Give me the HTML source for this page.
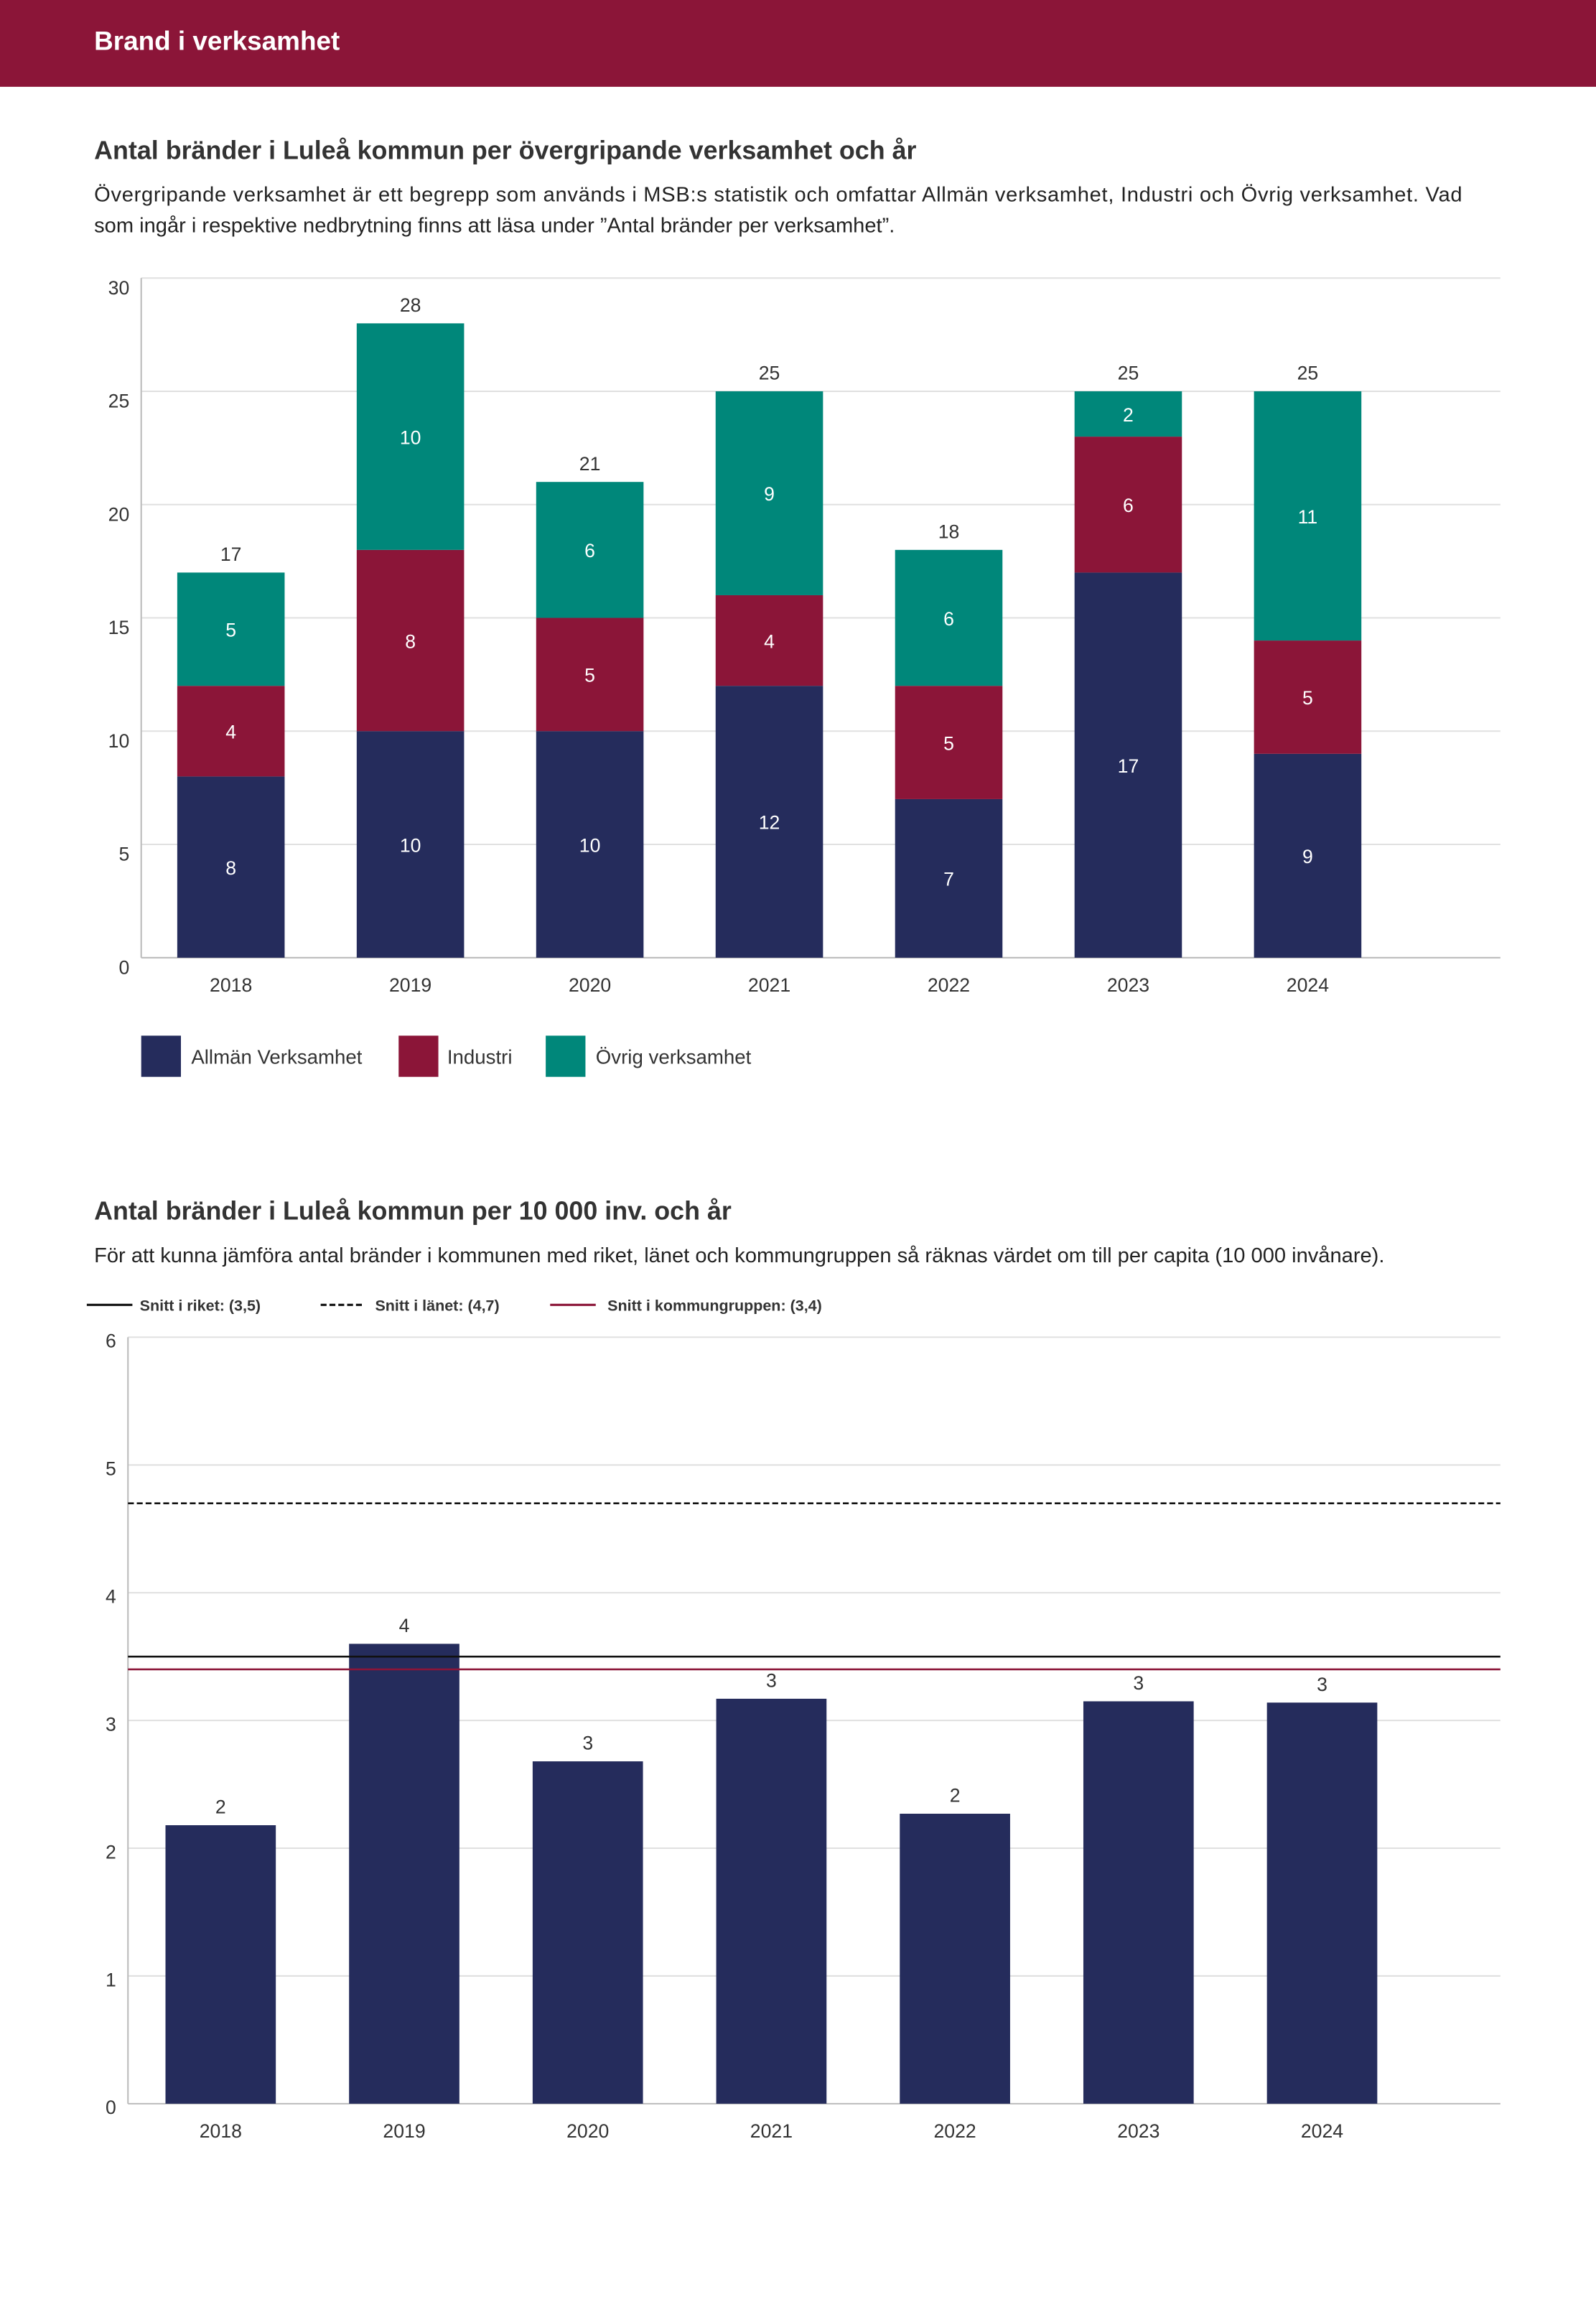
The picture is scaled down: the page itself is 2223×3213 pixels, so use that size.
<!DOCTYPE html>
<html><head><meta charset="utf-8"><style>
html,body{margin:0;padding:0;background:#fff;}
svg{display:block;font-family:"Liberation Sans",sans-serif;}
</style></head><body>
<svg id="s" width="2223" height="3213" viewBox="0 0 1085 1568.2" xmlns="http://www.w3.org/2000/svg">
<rect x="0" y="0" width="1085" height="59" fill="#8b1538"/>
<text x="64" y="34" font-size="18" font-weight="bold" fill="#fff">Brand i verksamhet</text>
<text x="64" y="108" font-size="17.5" font-weight="bold" fill="#333">Antal bränder i Luleå kommun per övergripande verksamhet och år</text>
<text x="64" y="137" font-size="14.2" fill="#222" textLength="930" lengthAdjust="spacing">Övergripande verksamhet är ett begrepp som används i MSB:s statistik och omfattar Allmän verksamhet, Industri och Övrig verksamhet. Vad</text>
<text x="64" y="158" font-size="14.2" fill="#222">som ingår i respektive nedbrytning finns att läsa under ”Antal bränder per verksamhet”.</text>
<g id="c1"></g>
<g>
<rect x="96" y="704" width="27" height="28" fill="#252c5c"/>
<text x="130" y="723" font-size="13.5" fill="#333">Allmän Verksamhet</text>
<rect x="271" y="704" width="27" height="28" fill="#8b1538"/>
<text x="304" y="723" font-size="13.5" fill="#333">Industri</text>
<rect x="371" y="704" width="27" height="28" fill="#00877a"/>
<text x="405" y="723" font-size="13.5" fill="#333">Övrig verksamhet</text>
</g>
<text x="64" y="829" font-size="17.5" font-weight="bold" fill="#333">Antal bränder i Luleå kommun per 10 000 inv. och år</text>
<text x="64" y="858" font-size="14.2" fill="#222">För att kunna jämföra antal bränder i kommunen med riket, länet och kommungruppen så räknas värdet om till per capita (10 000 invånare).</text>
<g>
<line x1="59" y1="887" x2="90" y2="887" stroke="#111" stroke-width="1.5"/>
<text x="95" y="891" font-size="10.5" font-weight="bold" fill="#333">Snitt i riket: (3,5)</text>
<line x1="218" y1="887" x2="248" y2="887" stroke="#111" stroke-width="1.5" stroke-dasharray="4,2"/>
<text x="255" y="891" font-size="10.5" font-weight="bold" fill="#333">Snitt i länet: (4,7)</text>
<line x1="374" y1="887" x2="405" y2="887" stroke="#8b1538" stroke-width="1.5"/>
<text x="413" y="891" font-size="10.5" font-weight="bold" fill="#333">Snitt i kommungruppen: (3,4)</text>
</g>
<g id="c2"></g>
</svg>
<script>
const years = ["2018","2019","2020","2021","2022","2023","2024"];
const allman = [8,10,10,12,7,17,9];
const industri = [4,8,5,4,5,6,5];
const ovrig = [5,10,6,9,6,2,11];
const ticks1 = [0,5,10,15,20,25,30];
const perCapita = [2.18,3.6,2.68,3.17,2.27,3.15,3.14];
const perCapitaLabels = ["2","4","3","3","2","3","3"];
const ticks2 = [0,1,2,3,4,5,6];
const riket = 3.5, lanet = 4.7, kommungrupp = 3.4;

const NS="http://www.w3.org/2000/svg";
function mk(parent,tag,attrs,text){const e=document.createElementNS(NS,tag);for(const k in attrs)e.setAttribute(k,attrs[k]);if(text!==undefined)e.textContent=text;parent.appendChild(e);return e;}

// Chart 1
(function(){
const g=document.getElementById('c1');
const L=96,R=1020,Y0=651,Ytop=189,max=30;
const y=v=>Y0-(Y0-Ytop)*v/max;
const x=i=>157+122*i, bw=73;
ticks1.forEach(t=>{
 const l=mk(g,'line',{x1:L,x2:R,y1:y(t),y2:y(t),stroke:t===0?'#bbb':'#e0e0e0','stroke-width':1});
 
 
 const tx=mk(g,'text',{x:88,y:y(t)+11,'font-size':13,fill:'#333','text-anchor':'end'},t);
 
 
});
const ax=mk(g,'line',{x1:L,x2:L,y1:Ytop,y2:Y0,stroke:'#bbb'});


const series=[[allman,'#252c5c','allman'],[industri,'#8b1538','industri'],[ovrig,'#00877a','ovrig']];
years.forEach((yr,i)=>{
 let base=0;
 series.forEach(([arr,col,nm])=>{
  const v=arr[i];
  const r=mk(g,'rect',{x:x(i)-bw/2,y:y(base+v),width:bw,height:y(base)-y(base+v),fill:col});
  
  
  const t=mk(g,'text',{x:x(i),y:(y(base)+y(base+v))/2+5,'font-size':13,fill:'#fff','text-anchor':'middle'},v);
  
  
  base+=v;
 });
 const tt=mk(g,'text',{x:x(i),y:y(base)-8,'font-size':13,fill:'#333','text-anchor':'middle'},base);
 
 
 const xl=mk(g,'text',{x:x(i),y:674,'font-size':13,fill:'#333','text-anchor':'middle'},yr);
 
 
});
})();

// Chart 2
(function(){
const g=document.getElementById('c2');
const L=87,R=1020,Y0=1430,Ytop=909,max=6;
const y=v=>Y0-(Y0-Ytop)*v/max;
const x=i=>150+124.8*i, bw=75;
ticks2.forEach(t=>{
 const l=mk(g,'line',{x1:L,x2:R,y1:y(t),y2:y(t),stroke:t===0?'#bbb':'#e0e0e0','stroke-width':1});
 
 
 const tx=mk(g,'text',{x:79,y:y(t)+7,'font-size':13,fill:'#333','text-anchor':'end'},t);
 
 
});
const ax=mk(g,'line',{x1:L,x2:L,y1:Ytop,y2:Y0,stroke:'#bbb'});


years.forEach((yr,i)=>{
 const v=perCapita[i];
 const r=mk(g,'rect',{x:x(i)-bw/2,y:y(v),width:bw,height:Y0-y(v),fill:'#252c5c'});
 
 
 const t=mk(g,'text',{x:x(i),y:y(v)-8,'font-size':13,fill:'#333','text-anchor':'middle'},perCapitaLabels[i]);
 
 
 const xl=mk(g,'text',{x:x(i),y:1453,'font-size':13,fill:'#333','text-anchor':'middle'},yr);
 
 
});
const l1=mk(g,'line',{x1:L,x2:R,y1:y(riket),y2:y(riket),stroke:'#111','stroke-width':1.3});


const l2=mk(g,'line',{x1:L,x2:R,y1:y(lanet),y2:y(lanet),stroke:'#111','stroke-width':1.3,'stroke-dasharray':'4,2'});


const l3=mk(g,'line',{x1:L,x2:R,y1:y(kommungrupp),y2:y(kommungrupp),stroke:'#8b1538','stroke-width':1.3});


})();
</script>
</body></html>
